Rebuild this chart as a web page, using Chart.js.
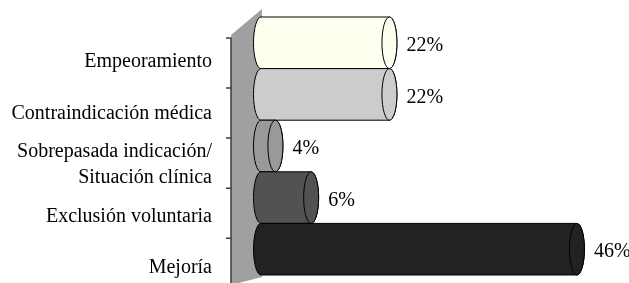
<!DOCTYPE html>
<html>
<head>
<meta charset="utf-8">
<script src="https://cdn.jsdelivr.net/npm/chart.js@4/dist/chart.umd.min.js"></script>
<style>
  html, body { margin: 0; padding: 0; background: #fff; }
  canvas { display: block; }
</style>
</head>
<body>
<canvas id="chart" width="629" height="283"></canvas>
<script>
const categories = [
  'Empeoramiento',
  'Contraindicación médica',
  ['Sobrepasada indicación/', 'Situación clínica'],
  'Exclusión voluntaria',
  'Mejoría',
]
// bar lengths as drawn (the printed percentages do not quite match them)
const barValues = [18.7, 18.7, 2.1, 7.3, 46]
const pctLabels = [22, 22, 4, 6, 46]
const barColors = ['#FFFFF0', '#CCCCCC', '#999999', '#525252', '#222222']

const FONT = "'Liberation Serif', 'Times New Roman', serif"

// 3d look: wall, front axis with ticks, cylinders and value labels
const cylinders = {
  id: 'cylinders',
  beforeDatasetsDraw(chart) {
    const { ctx, chartArea: ca, scales } = chart
    const y = scales.y
    const band = (ca.bottom - ca.top) / categories.length
    const frontY = (py) => ca.top + 21 + (py - ca.top) * 0.97
    const axisX = ca.left - 30

    ctx.save()
    // side wall
    ctx.fillStyle = '#A0A0A0'
    ctx.beginPath()
    ctx.moveTo(axisX, frontY(ca.top) - 3)
    ctx.lineTo(ca.left + 1, ca.top - 8)
    ctx.lineTo(ca.left + 1, ca.bottom + 2)
    ctx.lineTo(axisX, ca.bottom + 10)
    ctx.closePath()
    ctx.fill()

    // axis line + ticks
    ctx.strokeStyle = '#3a3a3a'
    ctx.lineWidth = 1.5
    ctx.beginPath()
    ctx.moveTo(axisX, frontY(ca.top))
    ctx.lineTo(axisX, chart.height)
    for (let i = 0; i < categories.length; i++) {
      const ty = frontY(y.getPixelForValue(i) - band / 2)
      ctx.moveTo(axisX - 5, ty)
      ctx.lineTo(axisX, ty)
    }
    ctx.stroke()
    ctx.restore()
  },
  beforeDatasetDraw() {
    return false
  },
  afterDatasetsDraw(chart) {
    const { ctx } = chart
    const meta = chart.getDatasetMeta(0)
    const rx = 7.5

    ctx.save()
    ctx.lineWidth = 1
    ctx.strokeStyle = '#000'
    meta.data.forEach((el, i) => {
      const { x, y, base, height } = el.getProps(['x', 'y', 'base', 'height'], true)
      const ry = height / 2
      const top = y - ry
      const bottom = y + ry
      ctx.fillStyle = barColors[i]

      ctx.beginPath()
      ctx.moveTo(base, top)
      ctx.lineTo(x, top)
      ctx.ellipse(x, y, rx, ry, 0, -Math.PI / 2, Math.PI / 2)
      ctx.lineTo(base, bottom)
      ctx.ellipse(base, y, rx, ry, 0, Math.PI / 2, Math.PI * 1.5)
      ctx.closePath()
      ctx.fill()
      ctx.stroke()

      ctx.beginPath()
      ctx.ellipse(x, y, rx, ry, 0, 0, Math.PI * 2)
      ctx.fill()
      ctx.stroke()

      ctx.fillStyle = '#000'
      ctx.font = '20px ' + FONT
      ctx.textAlign = 'left'
      ctx.textBaseline = 'middle'
      ctx.fillText(pctLabels[i] + '%', x + 17, y + 3)
    })
    ctx.restore()
  },
}

new Chart(document.getElementById('chart'), {
  type: 'bar',
  data: {
    labels: categories,
    datasets: [
      {
        data: barValues,
        backgroundColor: barColors,
        barPercentage: 1,
        categoryPercentage: 1,
      },
    ],
  },
  options: {
    indexAxis: 'y',
    responsive: false,
    animation: false,
    devicePixelRatio: 1,
    layout: {
      padding: { top: 17, bottom: 8, left: 0, right: 4 },
    },
    plugins: {
      legend: { display: false },
      tooltip: { enabled: false },
    },
    scales: {
      x: {
        display: false,
        min: 0,
        max: 53,
      },
      y: {
        grid: { display: false, drawTicks: false },
        border: { display: false },
        afterFit(scale) {
          scale.width = 261
          scale.paddingTop = 0
          scale.paddingBottom = 0
        },
        ticks: {
          color: '#000',
          padding: 49,
          labelOffset: 19,
          autoSkip: false,
          font: { family: FONT, size: 20, lineHeight: 1.3 },
        },
      },
    },
  },
  plugins: [cylinders],
})
</script>
</body>
</html>
